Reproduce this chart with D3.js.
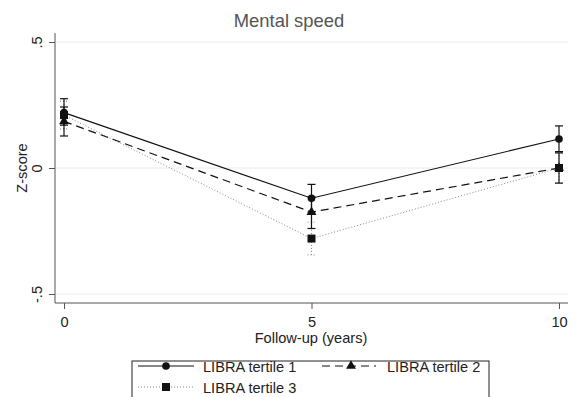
<!DOCTYPE html>
<html>
<head>
<meta charset="utf-8">
<script src="https://cdn.jsdelivr.net/npm/d3@7"></script>
<style>
  body { margin: 0; background: #fff; }
  text { font-family: "Liberation Sans", Arial, sans-serif; }
</style>
</head>
<body>
<svg id="chart" width="575" height="397"></svg>
<script>
var years = [0, 5, 10];
var seriesNames = ["LIBRA tertile 1", "LIBRA tertile 2", "LIBRA tertile 3"];
var tertile1 = [0.22, -0.12, 0.115];
var tertile1Lo = [0.17, -0.175, 0.065];
var tertile1Hi = [0.275, -0.065, 0.167];
var tertile2 = [0.185, -0.175, 0.0];
var tertile2Lo = [0.127, -0.24, -0.06];
var tertile2Hi = [0.242, -0.115, 0.06];
var tertile3 = [0.21, -0.28, 0.0];
var tertile3Lo = [0.155, -0.345, -0.06];
var tertile3Hi = [0.265, -0.215, 0.06];
var yTicks = [0.5, 0, -0.5];
var yTickLabels = [".5", "0", "-.5"];

var svg = d3.select("#chart");

var x = d3.scaleLinear().domain([0, 10]).range([64, 559]);
var y = d3.scaleLinear().domain([-0.5, 0.5]).range([294, 42]);

var series = [
  { name: seriesNames[0], v: tertile1, lo: tertile1Lo, hi: tertile1Hi, dash: null, ciDash: null, stroke: "#111", width: 1.2, shape: d3.symbolCircle, size: 46 },
  { name: seriesNames[1], v: tertile2, lo: tertile2Lo, hi: tertile2Hi, dash: "8,5", ciDash: null, stroke: "#111", width: 1.2, shape: d3.symbolTriangle, size: 42 },
  { name: seriesNames[2], v: tertile3, lo: tertile3Lo, hi: tertile3Hi, dash: "1,2", ciDash: "1,2", stroke: "#888", width: 1, shape: d3.symbolSquare, size: 64 }
];

// gridlines
svg.append("g")
  .selectAll("line")
  .data(yTicks)
  .enter().append("line")
    .attr("x1", 56).attr("x2", 568)
    .attr("y1", function(d) { return y(d); })
    .attr("y2", function(d) { return y(d); })
    .attr("stroke", "#eaeaea")
    .attr("stroke-width", 1);

// axes
var yAxis = svg.append("g")
    .attr("transform", "translate(55,0)")
    .call(d3.axisLeft(y).tickValues(yTicks).tickSize(6)
      .tickFormat(function(d, i) { return yTickLabels[i]; }));
yAxis.select(".domain").attr("d", "M0,33V303").attr("stroke", "#555");
yAxis.selectAll(".tick line").attr("stroke", "#555");
yAxis.selectAll(".tick text")
    .attr("transform", "rotate(-90)")
    .attr("x", 0).attr("y", -13)
    .attr("dy", 0)
    .style("text-anchor", "middle")
    .style("font-size", "14.6px")
    .attr("fill", "#222");

var xAxis = svg.append("g")
    .attr("transform", "translate(0,303)")
    .call(d3.axisBottom(x).tickValues(years).tickSize(6));
xAxis.select(".domain").attr("d", "M55,0H568").attr("stroke", "#555");
xAxis.selectAll(".tick line").attr("stroke", "#555");
xAxis.selectAll(".tick text")
    .attr("y", 24).attr("dy", 0)
    .style("font-size", "14.6px")
    .attr("fill", "#222");

// labels
svg.append("text")
    .attr("x", 289).attr("y", 27)
    .attr("text-anchor", "middle")
    .style("font-size", "18.4px")
    .attr("fill", "#555")
    .text("Mental speed");

svg.append("text")
    .attr("transform", "translate(27,168) rotate(-90)")
    .attr("text-anchor", "middle")
    .style("font-size", "14.6px")
    .attr("fill", "#222")
    .text("Z-score");

svg.append("text")
    .attr("x", 311).attr("y", 343)
    .attr("text-anchor", "middle")
    .style("font-size", "14.6px")
    .attr("fill", "#222")
    .text("Follow-up (years)");

// series
var line = d3.line()
    .x(function(d) { return x(d[0]); })
    .y(function(d) { return y(d[1]); });

series.slice().reverse().forEach(function(s) {
  var g = svg.append("g");
  var pts = years.map(function(t, i) { return [t, s.v[i]]; });

  g.append("path")
      .attr("d", line(pts))
      .attr("fill", "none")
      .attr("stroke", s.stroke)
      .attr("stroke-width", s.width)
      .attr("stroke-dasharray", s.dash);

  years.forEach(function(t, i) {
    var cx = x(t);
    g.append("line")
        .attr("x1", cx).attr("x2", cx)
        .attr("y1", y(s.lo[i])).attr("y2", y(s.hi[i]))
        .attr("stroke", s.stroke).attr("stroke-width", s.width)
        .attr("stroke-dasharray", s.ciDash);
    [s.lo[i], s.hi[i]].forEach(function(e) {
      g.append("line")
          .attr("x1", cx - 4).attr("x2", cx + 4)
          .attr("y1", y(e)).attr("y2", y(e))
          .attr("stroke", s.stroke).attr("stroke-width", s.width)
          .attr("stroke-dasharray", s.ciDash);
    });
  });

  g.selectAll(".pt")
      .data(pts)
      .enter().append("path")
      .attr("transform", function(d) { return "translate(" + x(d[0]) + "," + y(d[1]) + ")"; })
      .attr("d", d3.symbol().type(s.shape).size(s.size))
      .attr("fill", "#111");
});

// legend
svg.append("rect")
    .attr("x", 132).attr("y", 361)
    .attr("width", 357).attr("height", 45)
    .attr("fill", "#fff")
    .attr("stroke", "#222")
    .attr("stroke-width", 1);

var legendPos = [[138, 366], [322, 366], [138, 387]];
var legendText = [203, 387, 203];
series.forEach(function(s, i) {
  var lx = legendPos[i][0], ly = legendPos[i][1];
  var lw = i === 1 ? 54 : 56;
  var mx = i === 1 ? 351 : lx + 28;
  svg.append("line")
      .attr("x1", lx).attr("x2", lx + lw)
      .attr("y1", ly).attr("y2", ly)
      .attr("stroke", s.stroke).attr("stroke-width", s.width)
      .attr("stroke-dasharray", s.dash);
  svg.append("path")
      .attr("transform", "translate(" + mx + "," + ly + ")")
      .attr("d", d3.symbol().type(s.shape).size(s.size))
      .attr("fill", "#111");
  svg.append("text")
      .attr("x", legendText[i]).attr("y", ly + 6)
      .style("font-size", "14.6px")
      .attr("fill", "#222")
      .text(s.name);
});
</script>
</body>
</html>
